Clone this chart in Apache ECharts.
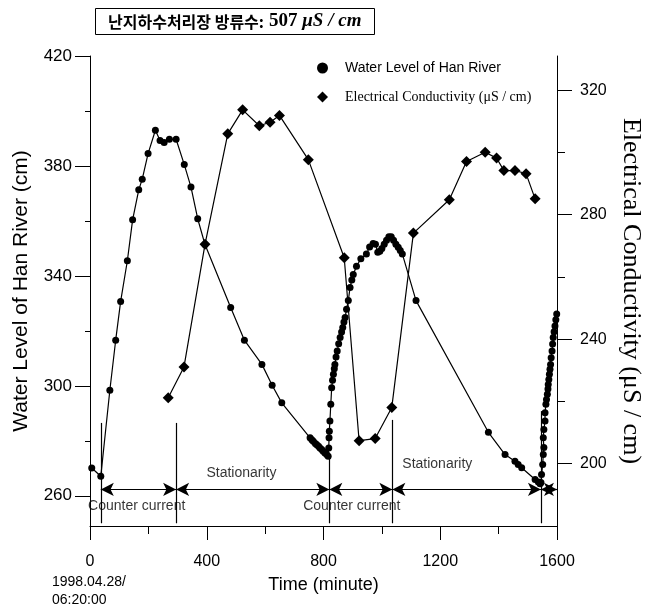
<!DOCTYPE html>
<html>
<head>
<meta charset="utf-8">
<script src="https://cdn.jsdelivr.net/npm/echarts@6/dist/echarts.min.js"></script>
<style>
html,body{margin:0;padding:0;background:#fff}
#chart{width:646px;height:612px}
</style>
</head>
<body>
<div id="chart"></div>
<script>
// water level of Han River (cm), left axis
var wlTime = [6, 37, 68, 88, 105, 128, 146, 167, 179, 199, 224, 240, 254, 272, 295, 323, 346, 369, 394,
    482, 529, 589, 624, 657,
    754, 760, 765, 772, 777, 783, 788, 794, 799, 805, 811, 816, 818, 819, 820, 822, 825, 828, 831, 834, 837, 839,
    843, 847, 852, 857, 862, 866, 870, 874, 879, 885, 891, 897, 902, 913, 928, 947, 958, 970, 978, 986, 993, 1000,
    1008, 1016, 1024, 1032, 1040, 1048, 1056, 1063, 1070, 1117,
    1365, 1422, 1456, 1467, 1479, 1525, 1536, 1542, 1545,
    1547, 1551, 1553, 1555, 1553, 1555, 1559, 1559, 1562, 1564, 1567, 1569, 1570, 1572, 1574, 1576, 1578, 1580,
    1583, 1585, 1587, 1590, 1593, 1596, 1599];
var wlLevel = [270.1, 267.1, 298.4, 316.6, 330.7, 345.5, 360.4, 371.3, 375.2, 384.5, 393, 389.3, 388.5, 389.7, 389.7, 380.5, 372.3, 360.8, 351.4,
    328.5, 316.6, 307.8, 300.2, 293.8,
    281.1, 280.4, 279.8, 279, 278.6, 278, 277.4, 276.8, 276.2, 275.6, 275, 274.4, 277.4, 281.1, 283.5, 287.2, 293.3, 299.3, 302, 304.2, 306.2, 307.8,
    310.5, 312.7, 315.3, 317.6, 319.6, 321.2, 323.2, 324.9, 327.9, 331, 335.8, 338.5, 340.5, 343.5, 346.2, 348, 350.5, 351.8, 351.5, 348.6, 349, 350,
    351.5, 353, 354.2, 354.2, 353, 351.5, 350.4, 349.2, 348, 331,
    283.1, 275, 272.6, 271.4, 270.2, 265.9, 265, 264.4, 264.8,
    267.7, 271.4, 275, 277.6, 281.1, 284.1, 287.2, 290.2, 293.3, 295, 296.9, 298.8, 300.5, 302.3, 304.2, 306, 307.8, 310.2,
    312.7, 315.2, 317.6, 319.7, 321.8, 324, 326.1];

// electrical conductivity (uS/cm), right axis
var ecTime = [268, 322, 394, 472, 523, 580, 617, 649, 748, 871, 922, 977, 1034, 1108, 1231, 1290, 1354, 1393, 1418, 1456, 1494, 1525];
var ecValue = [221.2, 231.1, 270.5, 306, 313.7, 308.6, 309.7, 311.9, 297.7, 266.2, 207.4, 208.1, 218.1, 274.1, 284.8, 297.1, 300.1, 298.2, 294.2, 294.2, 293.2, 285.1];

// phase annotations (minute / cm)
var phaseBounds = [37, 295, 820, 1036, 1545, 1600];
var boundTops = [286.5, 286.5, 274.4, 287.6, 290.8];
var arrowLevel = 262.3;
var phaseNames = ['Counter current', 'Stationarity', 'Counter current', 'Stationarity'];
var phaseLabelTime = [160, 519, 897, 1190];
var phaseLabelLevel = [256.1, 268.3, 256.1, 271.5];

// tick labels
var leftMajor = [260, 300, 340, 380, 420];
var leftMinor = [280, 320, 360, 400];
var rightMajor = [200, 240, 280, 320];
var rightMinor = [220, 260, 300];

var wlName = 'Water Level of Han River';
var ecName = 'Electrical Conductivity (\u03bcS / cm)';

var chart = echarts.init(document.getElementById('chart'));

var wlData = wlTime.map(function(t, i) { return [t, wlLevel[i]]; });
var ecData = ecTime.map(function(t, i) { return [t, ecValue[i]]; });

var markData = [];
// vertical boundary lines
for (var i = 0; i < boundTops.length; i++) {
    markData.push([{coord: [phaseBounds[i], boundTops[i]]}, {coord: [phaseBounds[i], 250]}]);
}
// double arrows
for (var j = 0; j < phaseBounds.length - 1; j++) {
    markData.push([
        {coord: [phaseBounds[j], arrowLevel], symbol: 'arrow', symbolSize: [10, 13]},
        {coord: [phaseBounds[j + 1], arrowLevel], symbol: 'arrow', symbolSize: [10, 13]}
    ]);
}

var labelData = phaseNames.map(function(n, i) {
    return {name: n, value: [phaseLabelTime[i], phaseLabelLevel[i]]};
});

var black = '#000';
var sans = 'Liberation Sans';
var serif = 'Liberation Serif';

function valueAxis(opt) {
    return Object.assign({
        type: 'value',
        splitLine: {show: false},
        axisLine: {show: true, lineStyle: {color: black, width: 1}},
        axisTick: {inside: false, lineStyle: {color: black}},
        axisLabel: {color: black, fontFamily: sans, fontSize: 16}
    }, opt);
}

var option = {
    animation: false,
    backgroundColor: '#fff',
    title: {
        text: '{k|난지하수처리장 방류수:} {n|507 }{u|\u03bcS / cm}',
        left: 95,
        top: 8,
        borderColor: black,
        borderWidth: 1,
        padding: [4, 13, 4, 13],
        textStyle: {
            rich: {
                k: {fontFamily: 'Noto Sans CJK KR', fontSize: 16, color: black},
                n: {fontFamily: serif, fontSize: 19, color: black},
                u: {fontFamily: serif, fontSize: 19, fontStyle: 'italic', color: black}
            }
        }
    },
    legend: {
        orient: 'vertical',
        left: 312,
        top: 56,
        itemWidth: 11,
        itemHeight: 11,
        itemGap: 15,
        data: [{name: wlName, icon: 'circle'}, {name: ecName, icon: 'diamond'}],
        formatter: function(name) {
            return name === wlName ? '{a|' + name + '}' : '{b|' + name + '}';
        },
        textStyle: {
            padding: [0, 0, 0, 12],
            rich: {
                a: {fontFamily: sans, fontSize: 14, color: black},
                b: {fontFamily: serif, fontSize: 14, color: black}
            }
        }
    },
    grid: {left: 90, right: 89, top: 56, bottom: 86, outerBoundsMode: 'none'},
    xAxis: valueAxis({
        min: 0,
        max: 1600,
        interval: 400,
        axisTick: {length: 14, lineStyle: {color: black}},
        minorTick: {show: true, splitNumber: 2, length: 8, lineStyle: {color: black}},
        axisLabel: {color: black, fontFamily: sans, fontSize: 16, margin: 28, formatter: function(v) { return String(v); }},
        name: 'Time (minute)',
        nameLocation: 'middle',
        nameGap: 50,
        nameTextStyle: {color: black, fontFamily: sans, fontSize: 18}
    }),
    yAxis: [
        valueAxis({
            position: 'left',
            min: 249,
            max: 420,
            axisTick: {length: 15, customValues: leftMajor, lineStyle: {color: black}},
            axisLabel: {color: black, fontFamily: sans, fontSize: 17, margin: 18, customValues: leftMajor},
            name: 'Water Level of Han River (cm)',
            nameLocation: 'middle',
            nameRotate: 90,
            nameGap: 58,
            nameTextStyle: {color: black, fontFamily: sans, fontSize: 21}
        }),
        valueAxis({
            position: 'left',
            min: 249,
            max: 420,
            axisLine: {show: false},
            axisTick: {length: 5, customValues: leftMinor, lineStyle: {color: black}},
            axisLabel: {show: false}
        }),
        valueAxis({
            position: 'right',
            min: 180,
            max: 331,
            axisTick: {length: 15, customValues: rightMajor, lineStyle: {color: black}},
            axisLabel: {color: black, fontFamily: sans, fontSize: 16, margin: 23, customValues: rightMajor},
            name: ecName,
            nameLocation: 'middle',
            nameRotate: -90,
            nameGap: 54,
            nameTextStyle: {color: black, fontFamily: serif, fontSize: 26}
        }),
        valueAxis({
            position: 'right',
            min: 180,
            max: 331,
            axisLine: {show: false},
            axisTick: {length: 8, customValues: rightMinor, lineStyle: {color: black}},
            axisLabel: {show: false}
        })
    ],
    graphic: [{
        type: 'text',
        left: 52,
        top: 573,
        style: {text: '1998.04.28/\n06:20:00', fill: black, font: '14px "Liberation Sans"', lineHeight: 18}
    }],
    series: [
        {
            name: wlName,
            type: 'line',
            yAxisIndex: 0,
            data: wlData,
            symbol: 'circle',
            symbolSize: 7,
            itemStyle: {color: black},
            lineStyle: {color: black, width: 1.2},
            markLine: {
                silent: true,
                symbol: ['none', 'none'],
                label: {show: false},
                lineStyle: {color: black, width: 1.2, type: 'solid'},
                data: markData
            },
            z: 3
        },
        {
            name: ecName,
            type: 'line',
            yAxisIndex: 2,
            data: ecData,
            symbol: 'diamond',
            symbolSize: 11,
            itemStyle: {color: black},
            lineStyle: {color: black, width: 1.2},
            z: 3
        },
        {
            type: 'scatter',
            yAxisIndex: 0,
            symbolSize: 0,
            silent: true,
            data: labelData,
            label: {
                show: true,
                position: 'inside',
                formatter: '{b}',
                color: black,
                fontFamily: sans,
                fontSize: 14
            }
        }
    ]
};

chart.setOption(option);
</script>
</body>
</html>
